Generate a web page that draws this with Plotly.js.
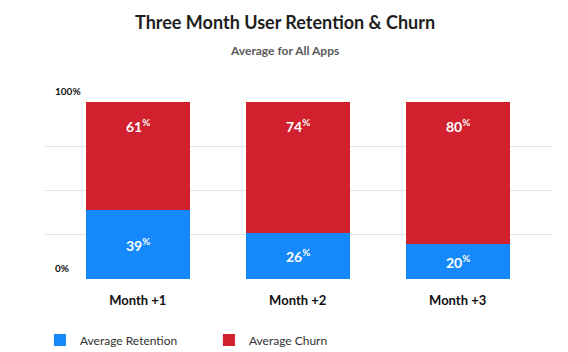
<!DOCTYPE html>
<html>
<head>
<meta charset="utf-8">
<script src="https://cdn.plot.ly/plotly-3.0.1.min.js"></script>
<style>html,body{margin:0;padding:0;background:#fff;}#chart{width:568px;height:352px;}</style>
</head>
<body>
<div id="chart"></div>
<script>
const categories = ["Month +1", "Month +2", "Month +3"];
const retention = [39, 26, 20];
const churn = [61, 74, 80];
const seriesNames = ["Average Retention", "Average Churn"];
const yTickVals = [0, 25, 50, 75, 100];
const yTickLabels = ["0%", "100%"];
const yLabelVals = [0, 100];
const titleText = "Three Month User Retention &amp; Churn";
const subtitleText = "Average for All Apps";

const FONT = "Lato, 'Open Sans', sans-serif";
const BLUE = "#1589fb";
const RED = "#d1202e";

const traces = [
  {type: "bar", name: seriesNames[0], x: categories, y: retention,
   marker: {color: BLUE}, hoverinfo: "none"},
  {type: "bar", name: seriesNames[1], x: categories, y: churn,
   marker: {color: RED}, hoverinfo: "none"}
];

const annotations = [];
categories.forEach((c, i) => {
  annotations.push({x: c, y: retention[i] / 2, xref: "x", yref: "y",
    text: retention[i] + "<sup>%</sup>", showarrow: false,
    font: {family: FONT, size: 14, color: "#fff", weight: "bold"}});
  annotations.push({x: c, y: 100, xref: "x", yref: "y", yshift: -23,
    text: churn[i] + "<sup>%</sup>", showarrow: false,
    font: {family: FONT, size: 14, color: "#fff", weight: "bold"}});
});
yLabelVals.forEach((v, i) => {
  annotations.push({x: 0, xref: "paper", xanchor: "left", xshift: 8,
    y: v, yref: "y", yanchor: "bottom", yshift: 3,
    text: yTickLabels[i], showarrow: false,
    font: {family: FONT, size: 10, color: "#111", weight: "bold"}});
});
annotations.push({x: 0.4725, xref: "paper", xanchor: "center", y: 1.45, yref: "paper", yanchor: "middle",
  text: titleText, showarrow: false,
  font: {family: FONT, size: 18, color: "#1e1e1e", weight: "bold"}});
annotations.push({x: 0.4725, xref: "paper", xanchor: "center", y: 1.293, yref: "paper", yanchor: "middle",
  text: subtitleText, showarrow: false,
  font: {family: FONT, size: 12, color: "#5a5a5a", weight: "bold"}});

const layout = {
  width: 568, height: 352,
  margin: {l: 45, r: 16, t: 102, b: 73, autoexpand: false},
  paper_bgcolor: "#fff", plot_bgcolor: "#fff",
  barmode: "stack", bargap: 0.35,
  showlegend: true,
  xaxis: {range: [-0.58, 2.59], showgrid: false, zeroline: false, showline: false,
    ticks: "", ticklabelstandoff: 12, automargin: false,
    tickfont: {family: FONT, size: 13, color: "#111", weight: "bold"}},
  yaxis: {range: [0, 100], tickvals: yTickVals, showticklabels: false, automargin: false,
    showgrid: true, gridcolor: "#e2e2e2", gridwidth: 1, zeroline: false, showline: false},
  legend: {orientation: "h", x: -0.01, xanchor: "left", y: -0.345, yanchor: "middle",
    entrywidth: 124, entrywidthmode: "pixels", traceorder: "normal", itemwidth: 30,
    font: {family: FONT, size: 12, color: "#333"}, itemclick: false},
  annotations: annotations
};

Plotly.newPlot("chart", traces, layout, {displayModeBar: false, staticPlot: true});
</script>
</body>
</html>
